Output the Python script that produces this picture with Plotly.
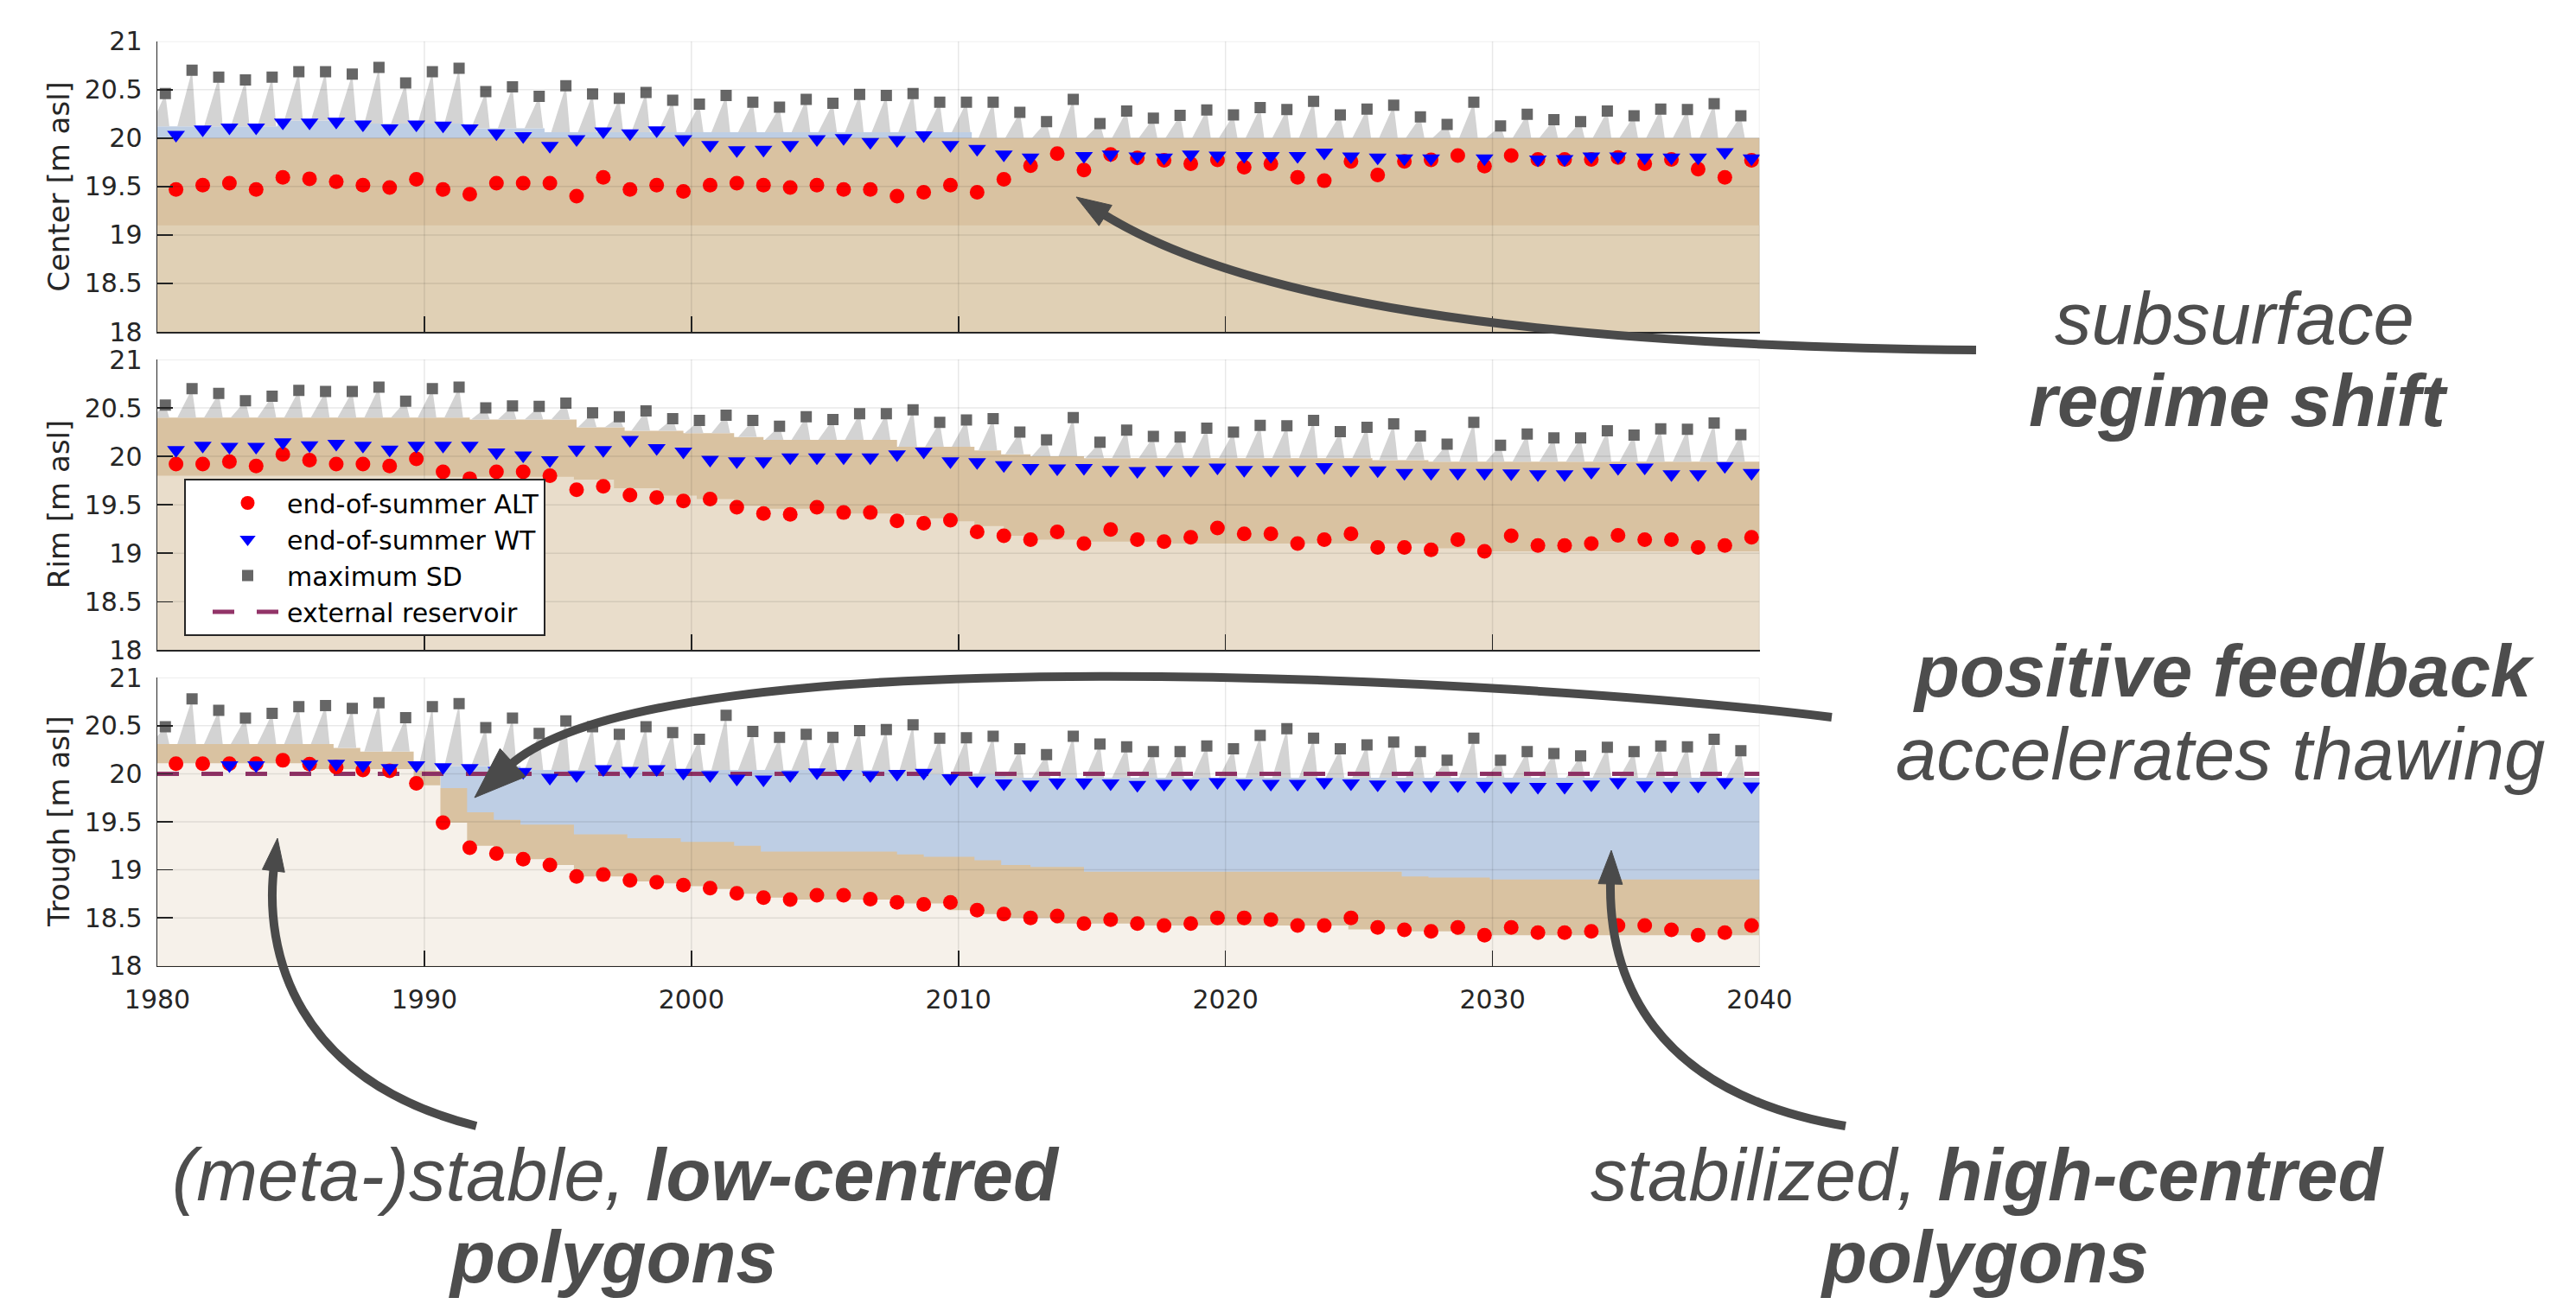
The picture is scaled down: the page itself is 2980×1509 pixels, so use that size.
import math
import plotly.graph_objects as go

W, H = 2980, 1509

# ---------------- data ----------------
years = list(range(1980, 2040))
ALT_OFFSET = 0.7   # end of summer
SD_OFFSET = 0.3    # snow maximum (spring)

center_alt = [19.47, 19.515, 19.535, 19.47, 19.595, 19.58, 19.55, 19.515, 19.49, 19.575,
              19.47, 19.42, 19.535, 19.535, 19.535, 19.40, 19.595, 19.47, 19.515, 19.45,
              19.515, 19.535, 19.515, 19.49, 19.515, 19.47, 19.47, 19.40, 19.44, 19.515,
              19.44, 19.575, 19.714, 19.84, 19.67, 19.83, 19.795, 19.77, 19.735, 19.775,
              19.70, 19.735, 19.595, 19.56, 19.76, 19.62, 19.76, 19.775, 19.82, 19.71,
              19.82, 19.78, 19.78, 19.78, 19.80, 19.735, 19.78, 19.68, 19.595, 19.77]
center_wt = [20.035, 20.09, 20.11, 20.11, 20.16, 20.16, 20.17, 20.14, 20.10, 20.14,
             20.13, 20.10, 20.05, 20.02, 19.92, 19.99, 20.07, 20.05, 20.08, 19.99,
             19.93, 19.875, 19.88, 19.93, 19.99, 20.0, 19.96, 19.98, 20.03, 19.93,
             19.89, 19.83, 19.80, None, 19.815, 19.83, 19.81, 19.80, 19.83, 19.82,
             19.815, 19.815, 19.815, 19.85, 19.81, 19.80, 19.79, 19.79, None, 19.79,
             None, 19.78, 19.785, 19.81, 19.81, 19.80, 19.80, 19.80, 19.855, 19.79]
center_sd = [20.46, 20.70, 20.63, 20.60, 20.63, 20.685, 20.685, 20.66, 20.73, 20.57,
             20.685, 20.72, 20.48, 20.53, 20.43, 20.54, 20.455, 20.41, 20.47, 20.39,
             20.35, 20.44, 20.37, 20.32, 20.40, 20.36, 20.45, 20.44, 20.46, 20.37,
             20.37, 20.37, 20.265, 20.17, 20.40, 20.15, 20.28, 20.205, 20.235, 20.29,
             20.24, 20.315, 20.295, 20.38, 20.24, 20.30, 20.34, 20.22, 20.14, 20.37,
             20.125, 20.245, 20.19, 20.17, 20.28, 20.23, 20.30, 20.295, 20.355, 20.23]

rim_alt = [19.92, 19.92, 19.945, 19.90, 20.02, 19.96, 19.92, 19.92, 19.90, 19.975,
           19.84, 19.77, 19.84, 19.84, 19.80, 19.655, 19.69, 19.60, 19.575, 19.54,
           19.56, 19.475, 19.41, 19.40, 19.475, 19.42, 19.42, 19.335, 19.31, 19.34,
           19.22, 19.18, 19.14, 19.22, 19.10, 19.245, 19.14, 19.12, 19.165, 19.26,
           19.20, 19.20, 19.10, 19.14, 19.20, 19.06, 19.06, 19.035, 19.14, 19.02,
           19.18, 19.08, 19.08, 19.10, 19.185, 19.14, 19.14, 19.06, 19.08, 19.165]
rim_wt = [20.065, 20.11, 20.10, 20.10, 20.145, 20.115, 20.13, 20.11, 20.07, 20.11,
          20.11, 20.11, 20.04, 20.01, 19.96, 20.07, 20.065, 20.17, 20.085, 20.05,
          19.965, 19.95, 19.95, 19.99, 19.99, 19.99, 19.99, 20.02, 20.05, 19.95,
          19.94, 19.91, 19.88, 19.875, 19.88, 19.86, 19.85, 19.86, 19.86, 19.885,
          19.86, 19.86, 19.86, 19.89, 19.86, 19.855, 19.83, 19.83, 19.83, 19.83,
          19.825, 19.815, 19.815, 19.84, 19.88, 19.885, 19.815, 19.815, 19.90, 19.83]
rim_sd = [20.53, 20.70, 20.65, 20.575, 20.62, 20.68, 20.67, 20.67, 20.715, 20.57,
          20.70, 20.715, 20.50, 20.52, 20.515, 20.55, 20.45, 20.41, 20.47, 20.39,
          20.37, 20.425, 20.37, 20.31, 20.41, 20.38, 20.44, 20.44, 20.48, 20.35,
          20.375, 20.39, 20.25, 20.17, 20.40, 20.145, 20.27, 20.205, 20.20, 20.29,
          20.25, 20.32, 20.315, 20.37, 20.255, 20.30, 20.335, 20.21, 20.125, 20.35,
          20.115, 20.23, 20.19, 20.19, 20.265, 20.22, 20.285, 20.28, 20.345, 20.225]

trough_alt = [20.105, 20.105, 20.105, 20.105, 20.14, 20.10, 20.07, 20.04, 20.03, 19.90,
              19.49, 19.23, 19.17, 19.11, 19.05, 18.93, 18.95, 18.89, 18.87, 18.84,
              18.81, 18.755, 18.71, 18.69, 18.735, 18.735, 18.695, 18.66, 18.64, 18.66,
              18.58, 18.54, 18.50, 18.52, 18.44, 18.48, 18.44, 18.42, 18.44, 18.50,
              18.50, 18.48, 18.42, 18.42, 18.50, 18.40, 18.375, 18.36, 18.40, 18.32,
              18.40, 18.345, 18.345, 18.36, 18.42, 18.42, 18.375, 18.32, 18.345, 18.42]
trough_wt = [None, None, 20.09, 20.09, None, 20.10, 20.105, 20.09, 20.06, 20.09,
             20.07, 20.06, 20.03, 20.02, 19.96, 19.985, 20.05, 20.03, 20.05, 20.01,
             19.985, 19.95, 19.94, 19.985, 20.015, 20.0, 19.985, 20.0, 20.01, 19.955,
             19.93, 19.90, 19.89, 19.91, 19.91, 19.90, 19.885, 19.895, 19.90, 19.915,
             19.90, 19.895, 19.895, 19.915, 19.90, 19.89, 19.88, 19.88, 19.88, 19.875,
             19.87, 19.865, 19.865, 19.89, 19.915, 19.88, 19.875, 19.875, 19.915, 19.87]
trough_sd = [20.49, 20.78, 20.66, 20.58, 20.63, 20.70, 20.71, 20.68, 20.74, 20.585,
             20.70, 20.73, 20.48, 20.58, 20.42, 20.55, 20.49, 20.41, 20.49, 20.43,
             20.36, 20.61, 20.44, 20.38, 20.41, 20.38, 20.45, 20.46, 20.51, 20.37,
             20.375, 20.39, 20.26, 20.20, 20.39, 20.31, 20.28, 20.23, 20.23, 20.29,
             20.26, 20.40, 20.47, 20.37, 20.26, 20.30, 20.33, 20.23, 20.14, 20.37,
             20.14, 20.23, 20.21, 20.185, 20.275, 20.23, 20.29, 20.28, 20.36, 20.24]

# ground surface / layer boundary / water level (step functions: year of change, value)
center_surface_yr = [1980, 2040]
center_surface = [20.0, 20.0]
center_layer_yr = [1980, 2040]
center_layer = [19.1, 19.1]
center_water_yr = [1980, 1984.5, 1988, 1991.5, 1994.5, 2010.5, 2040]
center_water = [20.12, 20.18, 20.15, 20.10, 20.06, 20.0, 20.0]

rim_surface_yr = [1980, 1991.7, 1995.7, 1997.5, 1999.7, 2001.6, 2002.7, 2007.7, 2010.6,
                  2011.6, 2012.7, 2014.7, 2025.5, 2027.6, 2040]
rim_surface = [20.40, 20.38, 20.30, 20.265, 20.24, 20.20, 20.17, 20.10, 20.06,
               20.02, 20.0, 19.98, 19.96, 19.945, 19.945]
rim_layer_yr = [1980, 1990.6, 1995.6, 1997.1, 1998.8, 2000.2, 2001.6, 2002.6, 2004.5, 2008.0,
                2008.7, 2009.8, 2010.6, 2011.7, 2012.8, 2014.8, 2018.0, 2027.6, 2029.9, 2040]
rim_layer = [19.80, 19.79, 19.76, 19.67, 19.595, 19.56, 19.49, 19.46, 19.41, 19.395,
             19.36, 19.33, 19.28, 19.18, 19.14, 19.12, 19.10, 19.05, 19.02, 19.02]
rim_water_yr = [1980, 2040]
rim_water = [18.0, 18.0]

trough_surface_yr = [1980, 1986.6, 1987.6, 1989.6, 1990.6, 1991.6, 1992.6, 1993.6, 1995.6,
                     1997.6, 1999.6, 2001.6, 2002.6, 2007.7, 2008.7, 2010.6, 2011.6, 2012.7,
                     2014.7, 2026.6, 2027.6, 2029.9, 2040]
trough_surface = [20.31, 20.27, 20.23, 20.03, 19.85, 19.60, 19.52, 19.47, 19.37,
                  19.33, 19.29, 19.25, 19.19, 19.16, 19.135, 19.10, 19.05, 19.03,
                  18.98, 18.93, 18.92, 18.90, 18.90]
trough_layer_yr = [1980, 1985.9, 1989.6, 1990.6, 1991.6, 1992.6, 1993.6, 1994.6, 1995.6,
                   1997.6, 1998.6, 1999.6, 2000.6, 2001.6, 2002.6, 2003.6, 2007.6, 2009.6,
                   2010.6, 2011.6, 2013.6, 2016.6, 2024.6, 2026.6, 2028.6, 2040]
trough_layer = [20.11, 20.05, 19.88, 19.49, 19.25, 19.17, 19.11, 19.05, 18.93,
                18.88, 18.86, 18.83, 18.80, 18.75, 18.71, 18.69, 18.65, 18.58,
                18.54, 18.50, 18.44, 18.42, 18.38, 18.36, 18.32, 18.32]
trough_water_yr = [1980, 1990.6, 1993.6, 2008.0, 2012.0, 2040]
trough_water = [18.0, 20.08, 20.04, 20.0, 19.96, 19.96]

reservoir_yr = [1980, 2040]
reservoir_level = [20.0, 20.0]

x_ticks = [1980, 1990, 2000, 2010, 2020, 2030, 2040]
y_ticks = [18, 18.5, 19, 19.5, 20, 20.5, 21]
panel_titles = ["Center [m asl]", "Rim [m asl]", "Trough [m asl]"]

# ---------------- styles ----------------
DARK_TAN = "rgb(217,194,161)"
LOW_COLORS = ["rgb(224,208,181)", "rgb(233,221,203)", "rgb(246,241,234)"]
WATER = "rgb(190,206,228)"
SNOW = "rgb(211,211,211)"
RES_COLOR = "rgb(146,52,104)"
AX = "#262626"
TXT = "#4D4D4D"
FONT = "DejaVu Sans"
ANN_FONT = "Liberation Sans"

X0, X1 = 182.0, 2035.5
PANELS_PX = [(47.7, 384.0), (416.0, 752.3), (784.3, 1117.7)]


def fx(x):
    return x / W


def fy(y):
    return 1 - y / H


def step_at(xs, vs, t):
    v = vs[0]
    for xx, vv in zip(xs, vs):
        if xx <= t:
            v = vv
    return v


panels = [
    dict(alt=center_alt, wt=center_wt, sd=center_sd,
         surf=(center_surface_yr, center_surface), layer=(center_layer_yr, center_layer),
         water=(center_water_yr, center_water), res=False),
    dict(alt=rim_alt, wt=rim_wt, sd=rim_sd,
         surf=(rim_surface_yr, rim_surface), layer=(rim_layer_yr, rim_layer),
         water=(rim_water_yr, rim_water), res=False),
    dict(alt=trough_alt, wt=trough_wt, sd=trough_sd,
         surf=(trough_surface_yr, trough_surface), layer=(trough_layer_yr, trough_layer),
         water=(trough_water_yr, trough_water), res=True),
]

fig = go.Figure()
layout = dict(
    width=W, height=H, autosize=False,
    margin=dict(l=0, r=0, t=0, b=0, pad=0, autoexpand=False),
    paper_bgcolor="white", plot_bgcolor="rgba(0,0,0,0)",
    showlegend=True, hovermode=False,
)
shapes = []
annotations = []

for k, p in enumerate(panels, start=1):
    xa = "x" if k == 1 else f"x{k}"
    ya = "y" if k == 1 else f"y{k}"
    common = dict(xaxis=xa, yaxis=ya, hoverinfo="skip")

    wyr, wv = p["water"]
    fig.add_trace(go.Scatter(x=wyr, y=wv, mode="lines", line=dict(width=0, shape="hv", color=WATER),
                             fill="tozeroy", fillcolor=WATER, showlegend=False, **common))
    syr, sv = p["surf"]
    fig.add_trace(go.Scatter(x=syr, y=sv, mode="lines", line=dict(width=0, shape="hv", color=DARK_TAN),
                             fill="tozeroy", fillcolor=DARK_TAN, showlegend=False, **common))
    lyr, lv = p["layer"]
    fig.add_trace(go.Scatter(x=lyr, y=lv, mode="lines", line=dict(width=0, shape="hv", color=LOW_COLORS[k - 1]),
                             fill="tozeroy", fillcolor=LOW_COLORS[k - 1], showlegend=False, **common))

    # snow cover: one wedge per winter, rising to the maximum snow depth
    sx, sy = [], []
    for yr, peak in zip(years, p["sd"]):
        tp = yr + SD_OFFSET
        base = max(step_at(syr, sv, tp), step_at(wyr, wv, tp))
        sx += [yr - 0.25, tp, yr + 0.45, None]
        sy += [base, peak, base, None]
    fig.add_trace(go.Scatter(x=sx, y=sy, mode="lines", line=dict(width=0, color=SNOW),
                             fill="toself", fillcolor=SNOW, connectgaps=False, showlegend=False, **common))

    if p["res"]:
        fig.add_trace(go.Scatter(x=reservoir_yr, y=reservoir_level, mode="lines",
                                 line=dict(color=RES_COLOR, width=5, dash="25px,26px"),
                                 name="external reservoir", legendrank=4, showlegend=True, **common))

    fig.add_trace(go.Scatter(x=[y + ALT_OFFSET for y in years], y=p["alt"], mode="markers",
                             marker=dict(symbol="circle", size=17, color="#FF0000", line=dict(width=0)),
                             name="end-of-summer ALT", legendrank=1, showlegend=(k == 1), **common))
    fig.add_trace(go.Scatter(x=[y + ALT_OFFSET for y in years], y=p["wt"], mode="markers",
                             marker=dict(symbol="triangle-down", size=18, color="#0000FF", line=dict(width=0)),
                             name="end-of-summer WT", legendrank=2, showlegend=(k == 1), **common))
    fig.add_trace(go.Scatter(x=[y + SD_OFFSET for y in years], y=p["sd"], mode="markers",
                             marker=dict(symbol="square", size=13, color="#666666", line=dict(width=0)),
                             name="maximum SD", legendrank=3, showlegend=(k == 1), **common))

    top, bot = PANELS_PX[k - 1]
    xkey = "xaxis" if k == 1 else f"xaxis{k}"
    ykey = "yaxis" if k == 1 else f"yaxis{k}"
    layout[xkey] = dict(
        domain=[fx(X0), fx(X1)], range=[x_ticks[0], x_ticks[-1]], anchor=ya,
        tickvals=x_ticks, ticks="inside", ticklen=18, tickwidth=1.5, tickcolor=AX,
        showline=True, linecolor=AX, linewidth=1.5, showgrid=False, zeroline=False,
        layer="above traces", showticklabels=(k == 3), ticklabelstandoff=12,
        tickfont=dict(family=FONT, size=30, color=AX), fixedrange=True, automargin=False,
    )
    layout[ykey] = dict(
        domain=[fy(bot), fy(top)], range=[y_ticks[0], y_ticks[-1]], anchor=xa,
        tickvals=y_ticks, ticks="inside", ticklen=18, tickwidth=1.5, tickcolor=AX,
        showline=True, linecolor=AX, linewidth=1.5, showgrid=False, zeroline=False,
        layer="above traces", ticklabelstandoff=10,
        tickfont=dict(family=FONT, size=30, color=AX), fixedrange=True, automargin=False,
    )
    # faint grid drawn over the filled layers
    for v in y_ticks[1:]:
        shapes.append(dict(type="line", xref=xa, yref=ya, x0=x_ticks[0], x1=x_ticks[-1], y0=v, y1=v,
                           line=dict(color="rgba(0,0,0,0.09)", width=1.5), layer="above"))
    for v in x_ticks[1:]:
        shapes.append(dict(type="line", xref=xa, yref=ya, x0=v, x1=v, y0=y_ticks[0], y1=y_ticks[-1],
                           line=dict(color="rgba(0,0,0,0.09)", width=1.5), layer="above"))
    annotations.append(dict(text=panel_titles[k - 1], xref="paper", yref="paper",
                            x=fx(68), y=fy((top + bot) / 2), xanchor="center", yanchor="middle",
                            textangle=-90, showarrow=False,
                            font=dict(family=FONT, size=34, color=AX)))

# ---------------- explanatory text ----------------
ANN_SIZE = 85
texts = [
    ("<i>subsurface</i>", 2585, 398),
    ("<b><i>regime shift</i></b>", 2589, 493),
    ("<b><i>positive feedback</i></b>", 2572, 806),
    ("<i>accelerates thawing</i>", 2568, 902),
    ("<i>(meta-)stable, <b>low-centred</b></i>", 712, 1389),
    ("<b><i>polygons</i></b>", 709, 1484),
    ("<i>stabilized, <b>high-centred</b></i>", 2299, 1389),
    ("<b><i>polygons</i></b>", 2296, 1484),
]
for t, cx, base in texts:
    annotations.append(dict(text=t, xref="paper", yref="paper", x=fx(cx), y=fy(base - 0.3465 * ANN_SIZE),
                            xanchor="center", yanchor="middle", showarrow=False,
                            font=dict(family=ANN_FONT, size=ANN_SIZE, color=TXT)))

# ---------------- curved arrows ----------------
ARROW = "#4A4A4A"


def add_arrow(P0, P1, P2, T, L, hw):
    ux, uy = T[0] - P2[0], T[1] - P2[1]
    n = math.hypot(ux, uy)
    ux, uy = ux / n, uy / n
    B = (T[0] - L * ux, T[1] - L * uy)
    E = (B[0] + 6 * ux, B[1] + 6 * uy)
    path = "M {:.5f},{:.5f} C {:.5f},{:.5f} {:.5f},{:.5f} {:.5f},{:.5f}".format(
        fx(P0[0]), fy(P0[1]), fx(P1[0]), fy(P1[1]), fx(P2[0]), fy(P2[1]), fx(E[0]), fy(E[1]))
    shapes.append(dict(type="path", xref="paper", yref="paper", path=path,
                       line=dict(color=ARROW, width=10), layer="above"))
    px_, py_ = -uy, ux
    c1 = (B[0] + hw * px_, B[1] + hw * py_)
    c2 = (B[0] - hw * px_, B[1] - hw * py_)
    head = "M {:.5f},{:.5f} L {:.5f},{:.5f} L {:.5f},{:.5f} Z".format(
        fx(T[0]), fy(T[1]), fx(c1[0]), fy(c1[1]), fx(c2[0]), fy(c2[1]))
    shapes.append(dict(type="path", xref="paper", yref="paper", path=head,
                       fillcolor=ARROW, line=dict(color=ARROW, width=1), layer="above"))


add_arrow((2286, 405), (1750, 400), (1430, 345), (1245, 228), 40, 14)
add_arrow((2119, 830), (1750, 785), (760, 730), (549, 923), 60, 22)
add_arrow((551, 1303), (340, 1250), (305, 1100), (321, 970), 38, 13)
add_arrow((2135, 1303), (1910, 1265), (1860, 1130), (1864, 984), 39, 14)

layout["shapes"] = shapes
layout["annotations"] = annotations
layout["legend"] = dict(
    x=fx(213), y=fy(554), xanchor="left", yanchor="top",
    bgcolor="white", bordercolor=AX, borderwidth=2,
    font=dict(family=FONT, size=30, color="#000000"),
    itemwidth=81, indentation=26, tracegroupgap=0, traceorder="normal",
)

fig.update_layout(**layout)
fig.write_html("out.html", config={"displayModeBar": False, "staticPlot": True},
               post_script="document.body.style.margin='0px';document.body.style.overflow='hidden';")
